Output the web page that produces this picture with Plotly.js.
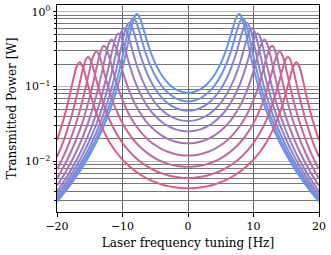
<!DOCTYPE html>
<html>
<head>
<meta charset="utf-8">
<script src="https://cdn.plot.ly/plotly-3.0.1.min.js"></script>
<style>html,body{margin:0;padding:0;background:#fff;}#chart{width:331px;height:255px;}</style>
</head>
<body>
<div id="chart"></div>
<script>
// Half-curves (x >= 0); each curve is symmetric about 0 Hz.
const tuning0 = [0,1,2,3,4,5,5.5,6,6.5,7,7.5,7.8,8,8.5,9,9.5,10,11,12,13,14,15,16,17,18,19,20];
const power0 = [0.0825,0.08503,0.09333,0.1100,0.1414,0.2039,0.2588,0.3433,0.4756,0.6714,0.8820,0.9339,0.9086,0.6852,0.4378,0.2738,0.1770,0.08421,0.04605,0.02778,0.01798,0.01227,0.008714,0.006391,0.004812,0.003704,0.002903];
const tuning1 = [0,1,2,3,4,5,6,6.5,7,7.5,8,8.35,8.5,9,9.5,10,10.5,11,12,13,14,15,16,17,18,19,20];
const power1 = [0.06356,0.06527,0.07084,0.08177,0.1016,0.1390,0.2166,0.2877,0.3992,0.5665,0.7569,0.8173,0.8047,0.6237,0.4029,0.2525,0.1632,0.1102,0.05652,0.03263,0.02048,0.01366,0.009541,0.006908,0.005148,0.003929,0.003059];
const tuning2 = [0,1,2,3,4,5,6,6.5,7,7.5,8,8.5,9,9.5,10,10.5,11,11.5,12,13,14,15,16,17,18,19,20];
const power2 = [0.04761,0.04873,0.05231,0.05920,0.07128,0.09278,0.1340,0.1695,0.2235,0.3081,0.4386,0.6075,0.7054,0.5978,0.4008,0.2518,0.1615,0.1080,0.07539,0.04076,0.02445,0.01579,0.01077,0.007659,0.005628,0.004247,0.003277];
const tuning3 = [0,1,2,3,4,5,6,7,7.5,8,8.5,9,9.5,9.77,10,10.5,11,11.5,12,13,14,15,16,17,18,19,20];
const power3 = [0.03465,0.03534,0.03755,0.04171,0.04876,0.06067,0.08186,0.1234,0.1599,0.2165,0.3056,0.4368,0.5725,0.6003,0.5788,0.4311,0.2767,0.1752,0.1149,0.05614,0.03140,0.01932,0.01272,0.008811,0.006346,0.004713,0.003590];
const tuning4 = [0,1,2,3,4,5,6,7,8,8.5,9,9.5,10,10.6,11,11.5,12,12.5,13,14,15,16,17,18,19,20];
const power4 = [0.02523,0.02566,0.02702,0.02954,0.03370,0.04042,0.05165,0.07174,0.1119,0.1479,0.2044,0.2928,0.4145,0.5111,0.4588,0.3187,0.2022,0.1298,0.08671,0.04378,0.02511,0.01574,0.01052,0.007371,0.005362,0.004017];
const tuning5 = [0,1,2,3,4,5,6,7,8,9,9.5,10,10.5,11,11.65,12,12.5,13,13.5,14,15,16,17,18,19,20];
const power5 = [0.01744,0.01769,0.01847,0.01988,0.02215,0.02567,0.03121,0.04031,0.05646,0.08852,0.1172,0.1621,0.2328,0.3328,0.4240,0.3902,0.2765,0.1765,0.1134,0.07573,0.03824,0.02196,0.01379,0.009244,0.006500,0.004743];
const tuning6 = [0,1,2,3,4,5,6,7,8,9,10,10.5,11,11.5,12,12.5,12.82,13,13.5,14,14.5,15,16,17,18,19,20];
const power6 = [0.01198,0.01212,0.01256,0.01335,0.01459,0.01644,0.01922,0.02349,0.03039,0.04239,0.06574,0.08630,0.1182,0.1687,0.2447,0.3282,0.3508,0.3430,0.2627,0.1712,0.1094,0.07230,0.03581,0.02031,0.01267,0.008454,0.005931];
const tuning7 = [0,1,2,3,4,5,6,7,8,9,10,11,11.5,12,12.5,13,13.5,14,14.5,15,15.5,16,16.5,17,18,19,20];
const power7 = [0.008470,0.008554,0.008816,0.009278,0.009989,0.01103,0.01253,0.01473,0.01805,0.02333,0.03236,0.04954,0.06441,0.08721,0.1233,0.1795,0.2526,0.2946,0.2499,0.1693,0.1082,0.07072,0.04819,0.03423,0.01912,0.01181,0.007836];
const tuning8 = [0,1,2,3,4,5,6,7,8,9,10,11,12,13,13.5,14,14.5,15,15.26,15.5,16,16.5,17,17.5,18,19,20];
const power8 = [0.006028,0.006078,0.006235,0.006509,0.006924,0.007518,0.008353,0.009528,0.01122,0.01372,0.01763,0.02416,0.03623,0.06171,0.08563,0.1237,0.1800,0.2373,0.2482,0.2386,0.1778,0.1155,0.07444,0.04975,0.03470,0.01886,0.01144];
const tuning9 = [0,1,2,3,4,5,6,7,8,9,10,11,12,13,14,14.5,15,15.5,16,16.54,17,17.5,18,18.5,19,20];
const power9 = [0.004383,0.004415,0.004512,0.004680,0.004932,0.005286,0.005774,0.006440,0.007362,0.008664,0.01056,0.01347,0.01823,0.02676,0.04407,0.05989,0.08496,0.1243,0.1770,0.2115,0.1839,0.1263,0.08117,0.05317,0.03630,0.01907];

const xTicks = [-20, -10, 0, 10, 20];
const xTickText = ['\u221220', '\u221210', '0', '10', '20'];
const yTicks = [0.01, 0.1, 1];
const yTickText = ['10<sup>\u22122</sup>', '10<sup>\u22121</sup>', '10<sup>0</sup>'];
const yMinor = [0.003,0.004,0.005,0.006,0.007,0.008,0.009,0.02,0.03,0.04,0.05,0.06,0.07,0.08,0.09,0.2,0.3,0.4,0.5,0.6,0.7,0.8,0.9];

const halves = [[tuning0,power0],[tuning1,power1],[tuning2,power2],[tuning3,power3],[tuning4,power4],
                [tuning5,power5],[tuning6,power6],[tuning7,power7],[tuning8,power8],[tuning9,power9]];

const c0 = [100,149,237], c1 = [222,92,132];
const traces = halves.map(([hx, hy], i) => {
  const t = i / (halves.length - 1);
  const col = 'rgb(' + c0.map((v, k) => Math.round(v + (c1[k] - v) * t)).join(',') + ')';
  const x = hx.slice(1).map(v => -v).reverse().concat(hx);
  const y = hy.slice(1).reverse().concat(hy);
  return {x: x, y: y, type: 'scatter', mode: 'lines',
          line: {color: col, width: 2, shape: 'spline', smoothing: 1}, hoverinfo: 'skip'};
});

const serif = 'DejaVu Serif, serif';
const layout = {
  width: 331, height: 255,
  margin: {l: 57, r: 12, t: 5, b: 43},
  paper_bgcolor: '#fff', plot_bgcolor: '#fff',
  showlegend: false, font: {family: serif, size: 11, color: '#000'},
  xaxis: {
    range: [-20, 20], tickvals: xTicks, ticktext: xTickText,
    ticks: 'outside', ticklen: 3.5, tickwidth: 1, tickcolor: '#000',
    showline: true, mirror: true, linecolor: '#000', linewidth: 1,
    showgrid: true, gridcolor: '#666', gridwidth: 1, zeroline: false,
    tickfont: {family: serif, size: 11},
    title: {text: 'Laser frequency tuning [Hz]', font: {family: serif, size: 12}, standoff: 6}
  },
  yaxis: {
    type: 'log', range: [-2.675, 0.089], tickvals: yTicks, ticktext: yTickText,
    ticks: 'outside', ticklen: 3.5, tickwidth: 1, tickcolor: '#000',
    showline: true, mirror: true, linecolor: '#000', linewidth: 1,
    showgrid: true, gridcolor: '#b8b8b8', gridwidth: 1.5, zeroline: false,
    tickfont: {family: serif, size: 11},
    minor: {tickvals: yMinor, ticks: 'outside', ticklen: 2, tickcolor: '#000',
            showgrid: true, gridcolor: '#555', gridwidth: 0.8},
    title: {text: 'Transmitted Power [W]', font: {family: serif, size: 12}, standoff: 5}
  }
};
Plotly.newPlot('chart', traces, layout, {staticPlot: true, displayModeBar: false});
</script>
</body>
</html>
